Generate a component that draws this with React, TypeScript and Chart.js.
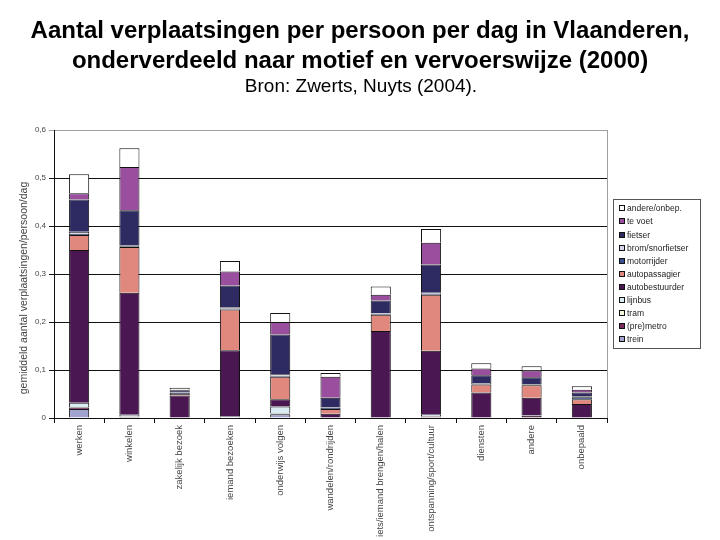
import React, { useEffect, useRef } from "react";
import { Chart, registerables } from "chart.js";

Chart.register(...registerables);

const FONT = "'Liberation Sans', Arial, sans-serif";

const titleLines = [
  "Aantal verplaatsingen per persoon per dag in Vlaanderen,",
  "onderverdeeld naar motief en vervoerswijze (2000)",
];
const subtitleText = "Bron: Zwerts, Nuyts (2004).";
const yAxisTitle = "gemiddeld aantal verplaatsingen/persoon/dag";

const categories = [
  "werken",
  "winkelen",
  "zakelijk bezoek",
  "iemand bezoeken",
  "onderwijs volgen",
  "wandelen/rondrijden",
  "iets/iemand brengen/halen",
  "ontspanning/sport/cultuur",
  "diensten",
  "andere",
  "onbepaald",
];

// series, bottom of the stack first
const trein = [0.019, 0.002, 0, 0.001, 0.008, 0, 0, 0.002, 0, 0, 0];
const premetro = [0.003, 0, 0, 0, 0.001, 0, 0, 0.001, 0, 0.004, 0];
const tram = [0.001, 0.001, 0, 0, 0.001, 0, 0, 0.001, 0, 0, 0];
const lijnbus = [0.009, 0.004, 0, 0.002, 0.014, 0, 0.001, 0.003, 0.001, 0.001, 0];
const autobestuurder = [0.318, 0.254, 0.047, 0.138, 0.015, 0.009, 0.18, 0.133, 0.052, 0.037, 0.029];
const autopassagier = [0.031, 0.095, 0.003, 0.085, 0.047, 0.01, 0.034, 0.117, 0.017, 0.026, 0.01];
const motorrijder = [0.003, 0.002, 0.002, 0.002, 0.002, 0.002, 0.002, 0.002, 0.001, 0.002, 0.004];
const bromSnorfietser = [0.004, 0.002, 0.001, 0.002, 0.003, 0.001, 0.001, 0.002, 0.002, 0.001, 0.002];
const fietser = [0.067, 0.073, 0.005, 0.046, 0.083, 0.02, 0.027, 0.059, 0.016, 0.014, 0.008];
const teVoet = [0.013, 0.09, 0.001, 0.029, 0.026, 0.044, 0.012, 0.045, 0.014, 0.014, 0.006];
const andereOnbep = [0.04, 0.039, 0.004, 0.022, 0.019, 0.008, 0.017, 0.029, 0.011, 0.009, 0.007];

const seriesNames = [
  "trein",
  "(pre)metro",
  "tram",
  "lijnbus",
  "autobestuurder",
  "autopassagier",
  "motorrijder",
  "brom/snorfietser",
  "fietser",
  "te voet",
  "andere/onbep.",
];
const seriesValues = [
  trein,
  premetro,
  tram,
  lijnbus,
  autobestuurder,
  autopassagier,
  motorrijder,
  bromSnorfietser,
  fietser,
  teVoet,
  andereOnbep,
];
const seriesColors = [
  "#a2a2ce",
  "#7a2a5c",
  "#f6f6dc",
  "#d8ecf2",
  "#4a1752",
  "#e0887e",
  "#3a4f8e",
  "#d6d6ec",
  "#2e2b62",
  "#9a4f9e",
  "#ffffff",
];

const extrasPlugin = {
  id: "extras",
  afterDraw(chart: any) {
    const ctx = chart.ctx;
    const a = chart.chartArea;

    // titles
    ctx.save();
    ctx.fillStyle = "#000";
    ctx.textAlign = "center";
    ctx.textBaseline = "alphabetic";
    ctx.font = `bold 24px ${FONT}`;
    ctx.fillText(titleLines[0], 360, 38);
    ctx.fillText(titleLines[1], 360, 68);
    ctx.font = `19px ${FONT}`;
    ctx.fillText(subtitleText, 361, 92);
    ctx.restore();

    ctx.save();
    // right frame of the plot area
    ctx.strokeStyle = "#a0a0a0";
    ctx.lineWidth = 1;
    ctx.beginPath();
    ctx.moveTo(Math.round(a.right) + 0.5, a.top);
    ctx.lineTo(Math.round(a.right) + 0.5, a.bottom);
    ctx.stroke();

    // y axis title
    ctx.fillStyle = "#444";
    ctx.font = `10.5px ${FONT}`;
    ctx.textAlign = "center";
    ctx.textBaseline = "middle";
    ctx.translate(24, 288);
    ctx.rotate(-Math.PI / 2);
    ctx.fillText(yAxisTitle, 0, 0);
    ctx.restore();

    // boxed legend
    ctx.save();
    const lx = 613;
    const ly = 199;
    const lw = 87;
    const lh = 149;
    ctx.strokeStyle = "#555";
    ctx.lineWidth = 1;
    ctx.strokeRect(lx + 0.5, ly + 0.5, lw, lh);
    ctx.font = `8.5px ${FONT}`;
    ctx.textAlign = "left";
    ctx.textBaseline = "middle";
    const ds = chart.data.datasets;
    for (let i = 0; i < ds.length; i++) {
      const d = ds[ds.length - 1 - i];
      const cy = Math.round(ly + 9.3 + i * 13.1);
      ctx.fillStyle = d.backgroundColor;
      ctx.fillRect(lx + 6, cy - 3, 6, 6);
      ctx.strokeStyle = "#111";
      ctx.strokeRect(lx + 6.5, cy - 2.5, 5, 5);
      ctx.fillStyle = "#222";
      ctx.fillText(d.label, lx + 14, cy + 0.5);
    }
    ctx.restore();
  },
};

export default function App() {
  const canvasRef = useRef<HTMLCanvasElement | null>(null);

  useEffect(() => {
    if (!canvasRef.current) return;
    const chart = new Chart(canvasRef.current, {
      type: "bar",
      data: {
        labels: categories,
        datasets: seriesNames.map((name, i) => ({
          label: name,
          data: seriesValues[i],
          backgroundColor: seriesColors[i],
          borderColor: "#111",
          borderWidth: 1,
          categoryPercentage: 1,
          barPercentage: 0.4,
        })),
      },
      options: {
        responsive: false,
        animation: false,
        layout: { padding: { left: 0, right: 113, top: 130, bottom: 0 } },
        plugins: {
          legend: { display: false },
          tooltip: { enabled: false },
          title: { display: false },
          subtitle: { display: false },
        },
        scales: {
          x: {
            stacked: true,
            offset: true,
            grid: {
              display: true,
              drawOnChartArea: false,
              drawTicks: true,
              tickLength: 5,
              color: "#111",
              offset: true,
            },
            border: { display: true, color: "#111", width: 1 },
            ticks: {
              autoSkip: false,
              minRotation: 90,
              maxRotation: 90,
              padding: 2,
              color: "#444",
              font: { family: FONT, size: 9.5 },
            },
            afterFit: (scale: any) => {
              scale.height = 122;
            },
          },
          y: {
            stacked: true,
            min: 0,
            max: 0.6,
            grid: {
              drawTicks: true,
              tickLength: 5,
              color: (ctx: any) => {
                const v = ctx.tick ? ctx.tick.value : 0;
                return v > 0.59 ? "#a0a0a0" : "#111";
              },
            },
            border: { display: true, color: "#111", width: 1 },
            ticks: {
              stepSize: 0.1,
              padding: 3,
              color: "#444",
              font: { family: FONT, size: 8 },
              callback: (v: any) => (Number(v) === 0 ? "0" : Number(v).toFixed(1).replace(".", ",")),
            },
            afterFit: (scale: any) => {
              scale.width = 54;
            },
          },
        },
      },
      plugins: [extrasPlugin],
    });
    return () => chart.destroy();
  }, []);

  return (
    <div style={{ position: "absolute", left: 0, top: 0, width: 720, height: 540, background: "#fff" }}>
      <canvas ref={canvasRef} width={720} height={540} style={{ display: "block" }} />
    </div>
  );
}
